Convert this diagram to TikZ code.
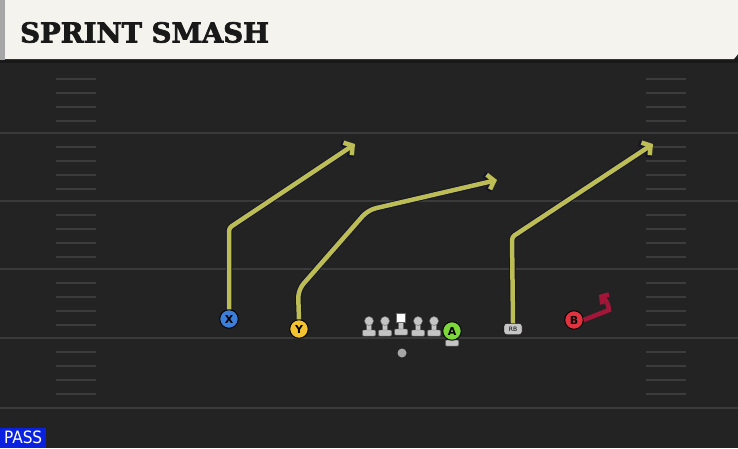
\documentclass[tikz,border=0pt]{standalone}
\usepackage{fontspec}
\setsansfont{DejaVu Sans}
\newfontfamily\titlefont{DejaVu Serif}[FakeBold=2.5]
\newfontfamily\passfont{DejaVu Sans Condensed}
\usetikzlibrary{arrows.meta,positioning}
\definecolor{fieldbg}{HTML}{232323}
\definecolor{yardline}{HTML}{3A3A3A}
\definecolor{hashcol}{HTML}{3C3C3C}
\definecolor{headbg}{HTML}{F5F3EE}
\definecolor{routecol}{HTML}{BDBD55}
\definecolor{routeedge}{HTML}{15152A}
\definecolor{blockcol}{HTML}{A3163A}
\definecolor{xblue}{HTML}{3C7FDA}
\definecolor{yyellow}{HTML}{F3C22E}
\definecolor{agreen}{HTML}{7CD83A}
\definecolor{bred}{HTML}{E2323F}
\definecolor{linecol}{HTML}{C4C4C4}
\definecolor{passblue}{HTML}{0A22E0}
\tikzset{
    player/.style={
        circle, draw=black, line width=0.9pt,
        minimum size=18.5pt, inner sep=0pt,
        font=\sffamily\bfseries\fontsize{11}{11}\selectfont
    },
    routeout/.style={
        draw=routeedge, line width=6.5pt, rounded corners=3pt,
        -{Straight Barb[length=7pt,width=17pt]}
    },
    routein/.style={
        draw=routecol, line width=4.5pt, rounded corners=3pt,
        -{Straight Barb[length=6pt,width=15pt]}
    },
    lineman/.style={fill=linecol, draw=black!60, line width=0.4pt}
}

\begin{document}
\begin{tikzpicture}[x=1pt, y=-1pt]
\useasboundingbox (0,0) rectangle (738,448);

% Field
\fill[fieldbg] (0,0) rectangle (738,448);
\foreach \yl in {133,201,269,338,408}
    \draw[yardline, line width=2pt] (0,\yl) -- (738,\yl);
\foreach \yl in {65,133,201,269,338}
    \foreach \off in {14,28,42,56} {
        \draw[hashcol, line width=1.3pt] (56,\yl+\off) -- (96,\yl+\off);
        \draw[hashcol, line width=1.3pt] (646,\yl+\off) -- (686,\yl+\off);
    }

% Header
\fill[black!90] (0,58) rectangle (738,63);
\fill[headbg] (5,0) -- (738,0) -- (738,54) -- (734,59) -- (5,59) -- cycle;
\fill[black!35] (0,0) rectangle (5,60);
\node[anchor=base west, inner sep=0pt, text=black!90,
      font=\titlefont\bfseries\fontsize{27.5}{27.5}\selectfont] (title) at (20,42.5) {SPRINT SMASH};

% Line
\foreach \lx in {369,385,418,434} {
    \fill[lineman] (\lx-2.5,321) rectangle (\lx+2.5,332);
    \fill[lineman] (\lx,321) circle (4.5);
    \fill[lineman, rounded corners=1pt] (\lx-6.5,330) rectangle (\lx+6.5,336);
}
\fill[lineman] (398.5,320) rectangle (403.5,331);
\fill[white, draw=black!60, line width=0.4pt] (396.5,313.5) rectangle (405.5,322.5);
\fill[lineman, rounded corners=1pt] (394.5,329) rectangle (407.5,335);
\fill[lineman] (449.5,335) rectangle (454.5,342);
\fill[lineman, rounded corners=1pt] (445.5,340) rectangle (458.5,346);

% Players
\node[player, fill=xblue] (x) at (229,319) {X};
\node[player, fill=yyellow] (y) at (299,329) {Y};
\node[player, fill=agreen] (a) at (452,331) {A};
\node[player, fill=bred] (b) at (574,320) {B};
\node[draw=black, fill=linecol, rounded corners=2.5pt, minimum width=18pt, minimum height=11pt,
      inner sep=0pt, font=\sffamily\fontsize{6}{6}\selectfont] (rb) at (513,329) {RB};
\node[circle, fill=gray!70, minimum size=9pt, inner sep=0pt] (qb) at (402,353) {};

% Route ends
\coordinate (xend) at (355,144);
\coordinate (yend) at (497,180);
\coordinate (rbend) at (653,144);
\coordinate (bend) at (599,295);

% Routes
\foreach \st in {routeout, routein} {
    \draw[\st] (x.north) -- (229,228) -- (xend);
    \draw[\st, rounded corners=8pt] (y.north) -- (298,290) -- (368,210) -- (yend);
    \draw[\st] (rb.north) -- (512,237) -- (rbend);
}

% Block
\draw[blockcol, line width=4.5pt, -{Straight Barb[length=5pt,width=12pt]}]
    (b.east) -- (609,310) .. controls (608,302) and (605,299) .. (bend);

% Play type
\node[fill=passblue, text=white, anchor=south west, minimum width=46pt, minimum height=20pt,
      inner sep=0pt, font=\passfont\fontsize{17}{17}\selectfont] (pass) at (0,448) {PASS};

\end{tikzpicture}
\end{document}
